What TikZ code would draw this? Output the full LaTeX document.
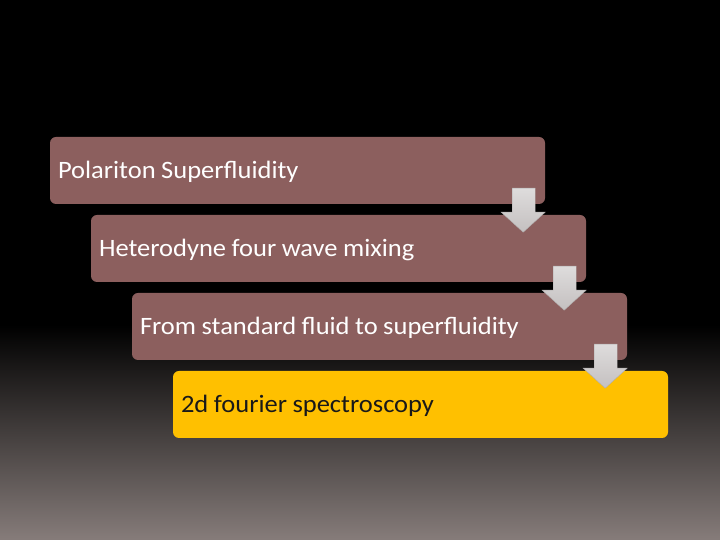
\documentclass[tikz,border=0pt]{standalone}
\usepackage{fontspec}
\setmainfont{Carlito}[FakeStretch=1.06]
\usetikzlibrary{positioning}

\definecolor{stepbrown}{RGB}{140,95,94}
\definecolor{stepgold}{RGB}{255,192,0}
\definecolor{bgbottom}{RGB}{134,124,122}
\definecolor{arrowtop}{RGB}{222,220,220}
\definecolor{arrowbot}{RGB}{196,192,192}

\tikzset{
  stepbox/.style={rectangle, rounded corners=6pt, fill=stepbrown, text=white,
    minimum height=67pt, text width=479pt, inner sep=8pt, align=left,
    text height=22pt, text depth=5pt,
    font=\fontsize{25}{29}\selectfont,
    execute at begin node={\spaceskip=0.22em\relax}},
  lastbox/.style={stepbox, fill=stepgold, text=black!90},
  downarrow/.style={top color=arrowtop, bottom color=arrowbot, draw=arrowbot!90!black, line width=0.4pt}
}

\begin{document}
\begin{tikzpicture}[x=1pt,y=1pt,node distance=78pt and 41pt,on grid]
  % background
  \fill[black] (0,0) rectangle (720,540);
  \shade[top color=black, bottom color=bgbottom] (0,0) rectangle (720,215);
  \useasboundingbox (0,0) rectangle (720,540);

  \path
  node[stepbox] (pol) at (297.5,369.5) {Polariton Superfluidity}
  node[stepbox] (het) [below right=of pol] {Heterodyne four wave mixing}
  node[stepbox] (flu) [below right=of het] {From standard fluid to superfluidity}
  node[lastbox] (fou) [below right=of flu] {2d fourier spectroscopy}
  ;

  % arrows between the steps
  \foreach \b in {pol,het,flu}
    \path[downarrow, shift={(\b.south east)}]
      (-33,16) -- (-10,16) -- (-10,-8) -- (0,-8) -- (-22,-28) -- (-44,-8) -- (-33,-8) -- cycle;
\end{tikzpicture}
\end{document}
